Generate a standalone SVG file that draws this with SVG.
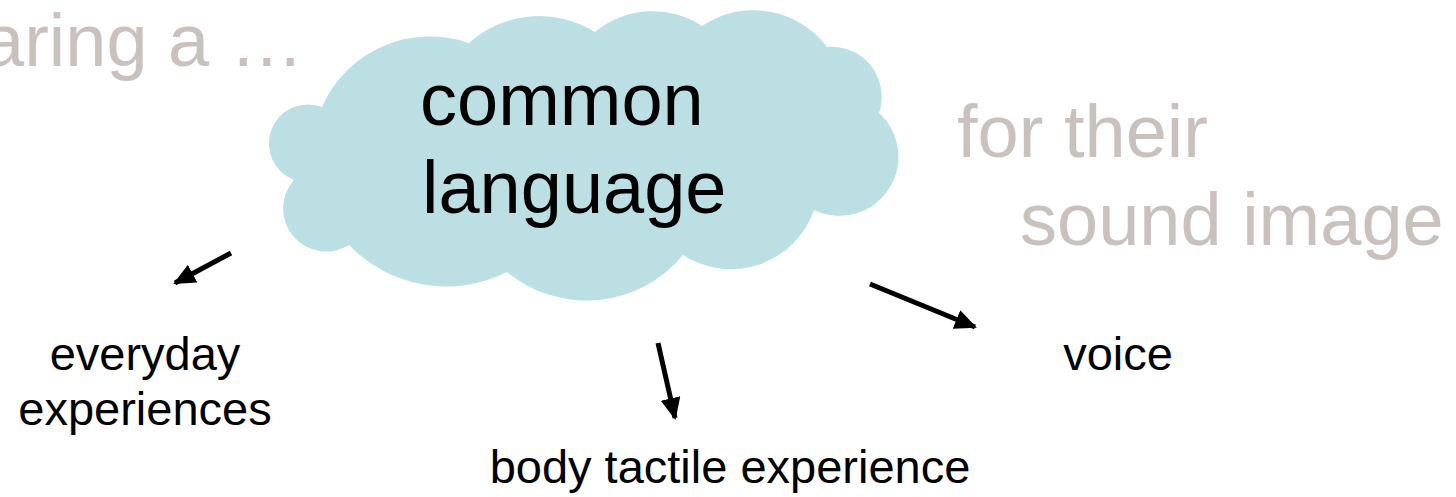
<svg xmlns="http://www.w3.org/2000/svg" width="1456" height="497" viewBox="0 0 1456 497">
<style>
.gray{font-family:"Liberation Sans",Arial,sans-serif;font-size:74px;fill:#c9c1be}
.big{font-family:"Liberation Sans",Arial,sans-serif;font-size:74px;fill:#000}
.lbl{font-family:"Liberation Sans",Arial,sans-serif;font-size:47px;fill:#000;text-anchor:middle}
.arrow{stroke:#000;stroke-width:5;fill:none;marker-end:url(#ah)}
</style>
<defs>
<marker id="ah" markerUnits="userSpaceOnUse" markerWidth="24" markerHeight="20" refX="20" refY="10" orient="auto">
<path d="M0,0 L22,10 L0,20 Z" fill="#000"/>
</marker>
</defs>
<rect width="1456" height="497" fill="#fff"/>
<g id="bg-texts">
<text class="gray" x="-17" y="66">aring a …</text>
<text class="gray" x="957" y="157">for their</text>
<text class="gray" x="1020" y="245">sound image</text>
</g>
<g id="cloud">
<path d="M322,107 A118,118 0 0 1 469,43 A105,105 0 0 1 595,32 A90,90 0 0 1 702,26 A92,92 0 0 1 827,47 A50,50 0 0 1 879,113 A59,59 0 0 1 814,210 A88,88 0 0 1 683,255 A125,125 0 0 1 507,272 A135,135 0 0 1 349,245 A43,43 0 0 1 294,180 A39,39 0 0 1 322,107 Z" fill="#bbdfe3"/>
<text class="big" x="420" y="125">common</text>
<text class="big" x="422" y="213">language</text>
</g>
<g id="everyday">
<text class="lbl" x="145" y="370">everyday</text>
<text class="lbl" x="145" y="425">experiences</text>
</g>
<g id="body">
<text class="lbl" x="730" y="483">body tactile experience</text>
</g>
<g id="voice">
<text class="lbl" x="1118" y="370">voice</text>
</g>
<g id="connectors">
<line class="arrow" x1="231" y1="253" x2="175" y2="283"/>
<line class="arrow" x1="658" y1="343" x2="675" y2="418"/>
<line class="arrow" x1="870" y1="284" x2="975" y2="327"/>
</g>
</svg>
